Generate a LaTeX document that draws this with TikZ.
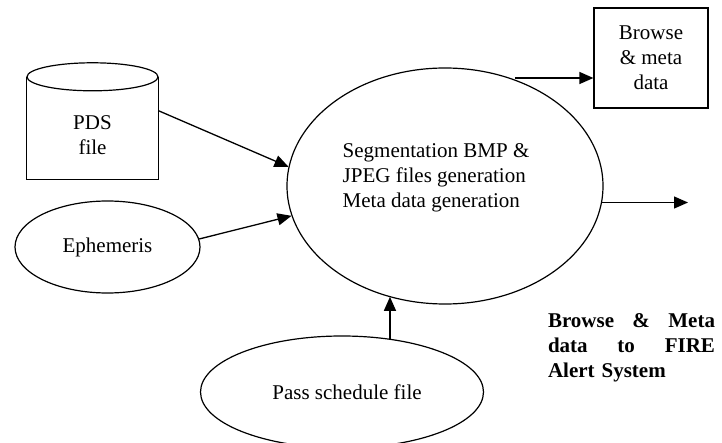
\documentclass[tikz,border=0pt]{standalone}
\usepackage{fontspec}
\setmainfont{Liberation Serif}
\usetikzlibrary{arrows.meta,calc,shapes.geometric}
\begin{document}
\begin{tikzpicture}[x=1pt,y=-1pt,
  arr/.style={line width=1.3pt,-{Triangle[length=14pt,width=12pt]}},
  txt/.style={font=\fontsize{21}{25}\selectfont, align=center, inner sep=0pt},
  ell/.style={ellipse, draw, line width=1.2pt, inner sep=0pt}]
\useasboundingbox (0,0) rectangle (722,443);
% PDS file cylinder
\node[minimum width=131pt, minimum height=102pt, inner sep=0pt] (pds) at (92.5,128) {};
\draw[line width=1.2pt] (pds.north west) -- (pds.south west) -- (pds.south east) -- (pds.north east);
\draw[line width=1.2pt, fill=white] (pds.north) ellipse [x radius=65.5pt, y radius=14pt];
\node[txt] (pdslabel) at (92.5,135) {PDS\\file};
% main process
\node[ell, minimum width=316pt, minimum height=236pt] (main) at (445,186) {};
\node[txt, align=left] (maintext) at (436,178) {Segmentation BMP \&\\JPEG files generation\\Meta data generation};
% Ephemeris
\node[ell, txt, minimum width=185pt, minimum height=92pt] (eph) at (107.5,247) {Ephemeris};
% Pass schedule file
\node[ell, minimum width=283pt, minimum height=112pt] (pass) at (342,392) {};
\node[txt] (passlabel) at (347,392) {Pass schedule file};
% Browse & meta data box
\node[draw, line width=1.2pt, txt, minimum width=114pt, minimum height=100pt] (box) at (651,58) {Browse\\\& meta\\data};
% bold label
\node[font=\bfseries\fontsize{21}{25}\selectfont, text width=167pt, align=left, inner sep=0pt] (fire) at (631.5,347.5)
  {Browse\hfill\&\hfill Meta\\data\hfill to\hfill FIRE\\Alert System};
% connectors
\draw[arr] ($(pds.north east)!0.33!(pds.south east)$) -- (main.173);
\draw[arr] (eph.5) -- (main.191);
\draw[arr] (pass.48) -- (pass.48 |- main.243);
\coordinate (tstart) at (515,78);
\draw[arr] (tstart) -- (tstart -| box.west);
\coordinate (outr) at (688,202);
\draw[arr] (main.-6) -- (main.-6 -| outr);
\end{tikzpicture}
\end{document}
